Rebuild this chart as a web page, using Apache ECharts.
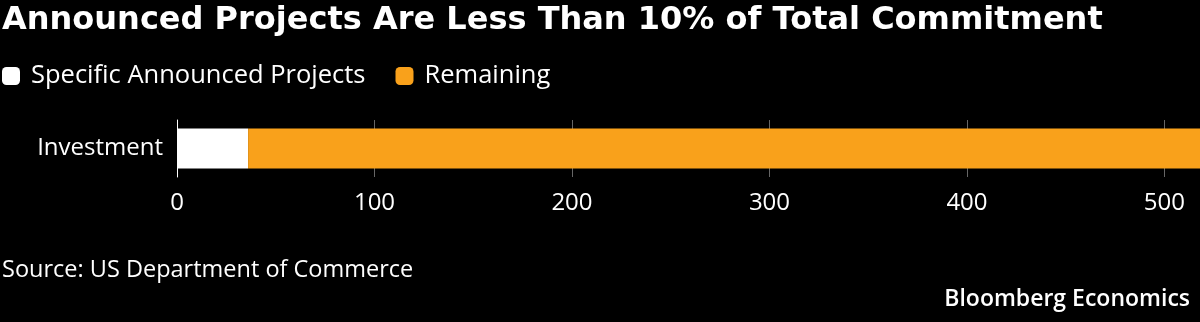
<!DOCTYPE html>
<html><head><meta charset="utf-8">
<script src="https://cdn.jsdelivr.net/npm/echarts@6/dist/echarts.min.js"></script>
<style>html,body{margin:0;padding:0;background:#000}#c{width:1200px;height:322px}</style>
</head><body><div id="c"></div>
<script>
const categories = ['Investment'];
const seriesNames = ['Specific Announced Projects', 'Remaining'];
const announced = [36];
const remaining = [514];
const xTicks = [0, 100, 200, 300, 400, 500];

const chart = echarts.init(document.getElementById('c'), null, {renderer: 'canvas'});
const font = '"Open Sans", "Noto Sans", sans-serif';
chart.setOption({
  backgroundColor: '#000',
  animation: false,
  title: [
    {text: 'Announced Projects Are Less Than 10% of Total Commitment', left: 2, top: 5, padding: 0,
     textStyle: {color: '#fff', fontSize: 32, fontWeight: 'bold', fontFamily: '"DejaVu Sans", sans-serif'}},
    {text: 'Source: US Department of Commerce', left: 2, top: 258, padding: 0,
     textStyle: {color: '#fff', fontSize: 23.5, fontWeight: 'normal', fontFamily: font}},
    {text: 'Bloomberg Economics', right: 10, top: 288, padding: 0,
     textStyle: {color: '#fff', fontSize: 23, fontWeight: 600, fontFamily: font}}
  ],
  legend: {
    left: 2, top: 63, padding: 0, icon: 'roundRect', itemWidth: 18, itemHeight: 18, itemGap: 30,
    textStyle: {color: '#fff', fontSize: 25.5, fontFamily: font, padding: [0, 0, 0, 6]},
    data: seriesNames
  },
  grid: {left: 177, right: 0, top: 120, bottom: 145, containLabel: false},
  xAxis: {
    type: 'value', min: 0, max: 518, interval: 100,
    axisLine: {show: false}, axisTick: {show: false},
    splitLine: {show: true, lineStyle: {color: '#666', width: 1}},
    axisLabel: {color: '#fff', fontSize: 24, fontFamily: font, margin: 14,
      showMaxLabel: false,
      formatter: v => xTicks.includes(v) ? String(v) : ''}
  },
  yAxis: {
    type: 'category', data: categories,
    axisLine: {show: true, lineStyle: {color: '#fff', width: 1}},
    axisTick: {show: false},
    axisLabel: {color: '#fff', fontSize: 24, fontFamily: font, margin: 14}
  },
  series: [
    {name: seriesNames[0], type: 'bar', stack: 'a', data: announced, barWidth: 40,
     itemStyle: {color: '#ffffff'}, clip: true},
    {name: seriesNames[1], type: 'bar', stack: 'a', data: remaining, barWidth: 40,
     itemStyle: {color: '#F9A11B'}, clip: true}
  ]
});
</script></body></html>
